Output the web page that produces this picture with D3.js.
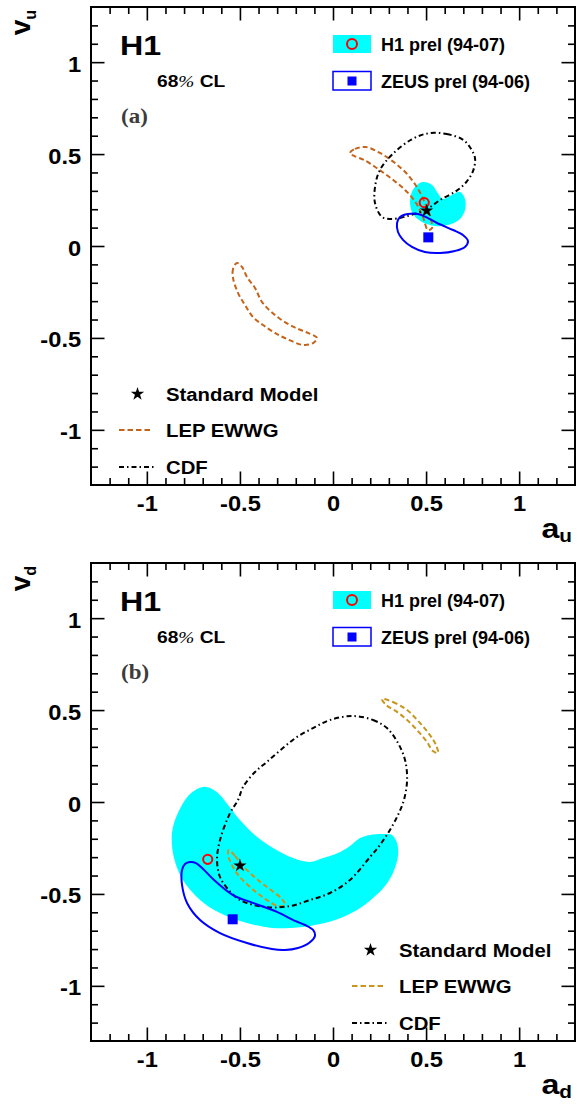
<!DOCTYPE html>
<html>
<head>
<meta charset="utf-8">
<script src="https://cdn.jsdelivr.net/npm/d3@7"></script>
<style>
  body { margin: 0; background: #fff; }
</style>
</head>
<body>
<div id="chart"></div>
<script>
// axis setup
var axisRange = [-1.3, 1.3];
var majorTicks = [-1, -0.5, 0, 0.5, 1];
var tickLabels = ['-1', '-0.5', '0', '0.5', '1'];

// legend labels
var legendTop = ['H1 prel (94-07)', 'ZEUS prel (94-06)'];
var legendBottom = ['Standard Model', 'LEP EWWG', 'CDF'];

// ---- panel (a): up-type quark couplings (a_u, v_u)
var h1RegionU = [[0.483,0.348],[0.532,0.332],[0.559,0.294],[0.591,0.256],[0.639,0.277],[0.682,0.294],
  [0.709,0.256],[0.709,0.196],[0.682,0.147],[0.618,0.114],[0.548,0.109],[0.478,0.131],[0.430,0.174],
  [0.414,0.228],[0.424,0.294],[0.451,0.332]];
var zeusContourU = [[0.360,0.158],[0.403,0.174],[0.457,0.174],[0.510,0.152],[0.559,0.125],[0.645,0.087],
  [0.698,0.060],[0.725,0.027],[0.709,-0.005],[0.655,-0.027],[0.575,-0.038],[0.494,-0.033],[0.424,-0.005],
  [0.376,0.033],[0.349,0.076],[0.344,0.125]];
var lepContourU1 = [[0.091,0.506],[0.118,0.528],[0.177,0.538],[0.252,0.506],[0.333,0.451],[0.403,0.386],
  [0.457,0.310],[0.494,0.234],[0.521,0.163],[0.532,0.098],[0.510,0.087],[0.483,0.158],[0.446,0.234],
  [0.387,0.305],[0.317,0.364],[0.242,0.419],[0.167,0.468],[0.113,0.490]];
var lepContourU2 = [[-0.516,-0.092],[-0.537,-0.125],[-0.537,-0.174],[-0.510,-0.256],[-0.473,-0.321],
  [-0.430,-0.386],[-0.376,-0.430],[-0.312,-0.473],[-0.247,-0.506],[-0.161,-0.538],[-0.107,-0.528],
  [-0.086,-0.500],[-0.134,-0.473],[-0.188,-0.451],[-0.242,-0.424],[-0.312,-0.375],[-0.381,-0.305],
  [-0.419,-0.228],[-0.462,-0.169],[-0.489,-0.114]];
var cdfContourU = [[0.512,0.613],[0.611,0.609],[0.700,0.577],[0.745,0.522],[0.763,0.477],[0.754,0.413],
  [0.718,0.350],[0.665,0.301],[0.575,0.250],[0.503,0.200],[0.430,0.172],[0.369,0.155],[0.306,0.147],
  [0.262,0.159],[0.226,0.232],[0.226,0.323],[0.252,0.413],[0.324,0.504],[0.423,0.580]];
var h1FitU = [0.490, 0.236];
var zeusFitU = [0.512, 0.047];
var standardModelU = [0.503, 0.192];

// ---- panel (b): down-type quark couplings (a_d, v_d)
var h1RegionD = [[-0.698,0.082],[-0.650,0.071],[-0.607,0.038],[-0.564,-0.016],[-0.500,-0.098],
  [-0.414,-0.185],[-0.322,-0.250],[-0.215,-0.305],[-0.124,-0.326],[-0.054,-0.305],[0.027,-0.277],
  [0.091,-0.239],[0.145,-0.196],[0.199,-0.179],[0.269,-0.174],[0.317,-0.179],[0.344,-0.223],
  [0.349,-0.294],[0.322,-0.386],[0.279,-0.457],[0.215,-0.522],[0.129,-0.587],[0.011,-0.642],
  [-0.124,-0.674],[-0.231,-0.685],[-0.322,-0.685],[-0.462,-0.658],[-0.607,-0.604],[-0.714,-0.533],
  [-0.806,-0.424],[-0.854,-0.305],[-0.865,-0.169],[-0.833,-0.060],[-0.768,0.044]];
var zeusContourD = [[-0.768,-0.326],[-0.736,-0.332],[-0.698,-0.364],[-0.639,-0.424],[-0.537,-0.506],
  [-0.430,-0.549],[-0.301,-0.598],[-0.204,-0.647],[-0.150,-0.669],[-0.107,-0.696],[-0.097,-0.729],
  [-0.129,-0.767],[-0.188,-0.794],[-0.258,-0.805],[-0.328,-0.800],[-0.462,-0.767],[-0.607,-0.713],
  [-0.714,-0.642],[-0.784,-0.549],[-0.811,-0.451],[-0.811,-0.370],[-0.795,-0.337]];
var lepContourD1 = [[0.263,0.560],[0.322,0.544],[0.398,0.500],[0.467,0.430],[0.521,0.364],[0.553,0.310],
  [0.564,0.267],[0.537,0.277],[0.505,0.326],[0.451,0.392],[0.398,0.446],[0.344,0.490],[0.285,0.528]];
var lepContourD2 = [[-0.559,-0.261],[-0.526,-0.294],[-0.473,-0.359],[-0.403,-0.424],[-0.333,-0.479],
  [-0.274,-0.528],[-0.258,-0.560],[-0.295,-0.566],[-0.371,-0.522],[-0.446,-0.462],[-0.510,-0.397],
  [-0.548,-0.332],[-0.564,-0.288]];
var cdfContourD = [[0.102,0.468],[0.215,0.446],[0.290,0.402],[0.349,0.321],[0.387,0.228],[0.398,0.120],
  [0.381,0.011],[0.349,-0.071],[0.306,-0.152],[0.252,-0.234],[0.199,-0.299],[0.091,-0.424],
  [-0.016,-0.495],[-0.124,-0.533],[-0.231,-0.566],[-0.365,-0.571],[-0.500,-0.533],[-0.569,-0.468],
  [-0.607,-0.408],[-0.623,-0.315],[-0.607,-0.207],[-0.553,-0.060],[-0.510,0.011],[-0.483,0.082],
  [-0.419,0.163],[-0.355,0.218],[-0.269,0.294],[-0.193,0.354],[-0.107,0.402],[-0.016,0.446]];
var h1FitD = [-0.673, -0.312];
var zeusFitD = [-0.539, -0.638];
var standardModelD = [-0.500, -0.346];

// sizes
var width = 579, height = 1104,
    frame = {left: 91, right: 575, h: 478},
    font = 'Liberation Sans, Arial, Helvetica, sans-serif',
    serif = 'Liberation Serif, Times New Roman, serif';

var svg = d3.select('#chart').append('svg')
  .attr('width', width)
  .attr('height', height);
svg.append('rect').attr('width', width).attr('height', height).attr('fill', '#fff');

var x = d3.scaleLinear().domain(axisRange).range([frame.left, frame.right]);

// text with a little horizontal stretch, like the original
function label(g, px, py, txt, size, o) {
  o = o || {};
  return g.append('text')
    .attr('transform', 'translate(' + px + ',' + py + ') scale(' + (o.sx || 1) + ',1)')
    .attr('font-family', o.family || font)
    .attr('font-weight', 'bold')
    .attr('font-size', size)
    .attr('text-anchor', o.anchor || 'start')
    .attr('fill', o.fill || '#000')
    .text(txt);
}

var drawPanel = function(top, d) {
  var g = svg.append('g');
  var y = d3.scaleLinear().domain(axisRange).range([top + frame.h, top]);
  var line = d3.line().x(function(p){ return x(p[0]); }).y(function(p){ return y(p[1]); })
    .curve(d3.curveCatmullRomClosed.alpha(0.5));

  // H1 region
  g.append('path').attr('d', line(d.h1)).attr('fill', '#00ffff');
  // LEP
  d.lep.forEach(function(c){
    g.append('path').attr('d', line(c)).attr('fill', 'none')
      .attr('stroke', d.lepColor).attr('stroke-width', 2).attr('stroke-dasharray', '5,3');
  });
  // CDF
  g.append('path').attr('d', line(d.cdf)).attr('fill', 'none')
    .attr('stroke', '#000').attr('stroke-width', 2).attr('stroke-dasharray', '5,3,1.5,3');
  // ZEUS
  g.append('path').attr('d', line(d.zeus)).attr('fill', 'none')
    .attr('stroke', '#0000ff').attr('stroke-width', 2);

  // points
  g.append('circle').attr('cx', x(d.h1Fit[0])).attr('cy', y(d.h1Fit[1])).attr('r', 4.6)
    .attr('fill', 'none').attr('stroke', '#ff0000').attr('stroke-width', 2);
  g.append('rect').attr('x', x(d.zeusFit[0]) - 5).attr('y', y(d.zeusFit[1]) - 5)
    .attr('width', 10).attr('height', 10).attr('fill', '#0000ff');
  g.append('path').attr('d', d3.symbol(d3.symbolStar, 55)())
    .attr('transform', 'translate(' + x(d.sm[0]) + ',' + y(d.sm[1]) + ')').attr('fill', '#000');

  // frame
  g.append('rect').attr('x', frame.left).attr('y', top)
    .attr('width', frame.right - frame.left).attr('height', frame.h)
    .attr('fill', 'none').attr('stroke', '#000').attr('stroke-width', 2);

  var minor = d3.range(-12, 13).map(function(i){ return i / 10; })
    .filter(function(v){ return Math.abs(v * 2 - Math.round(v * 2)) > 1e-6; });
  var fmt = function(v){ return tickLabels[majorTicks.indexOf(v)]; };

  var axes = [
    {a: d3.axisBottom(x), t: 'translate(0,' + (top + frame.h) + ')', lab: true},
    {a: d3.axisTop(x), t: 'translate(0,' + top + ')'},
    {a: d3.axisLeft(y), t: 'translate(' + frame.left + ',0)', lab: true},
    {a: d3.axisRight(y), t: 'translate(' + frame.right + ',0)'}
  ];
  axes.forEach(function(ax){
    var gm = g.append('g').attr('transform', ax.t)
      .call(ax.a.tickValues(majorTicks).tickSize(-13.5).tickPadding(ax.a === axes[2].a ? 9 : 11)
        .tickFormat(ax.lab ? fmt : ''));
    gm.select('.domain').remove();
    gm.attr('font-family', font).attr('font-size', 21.5).attr('font-weight', 'bold');
    gm.selectAll('line').attr('stroke-width', 1.6);
    gm.selectAll('text').attr('transform', 'scale(1.1,1)');
    if (ax.a === axes[2].a) gm.selectAll('text').attr('dy', '0.42em');

    var gn = g.append('g').attr('transform', ax.t)
      .call(ax.a.tickValues(minor).tickSize(-7).tickFormat(''));
    gn.select('.domain').remove();
    gn.selectAll('line').attr('stroke-width', 1.6);
  });

  // axis titles
  var xt = label(g, 572, top + 531, d.xName, 28, {anchor: 'end', sx: 1.15});
  xt.append('tspan').attr('font-size', 18).attr('dy', 4).text(d.sub);
  var yt = g.append('text')
    .attr('transform', 'translate(30,' + (top + 3) + ') rotate(-90)')
    .attr('font-family', font).attr('font-weight', 'bold').attr('font-size', 28)
    .attr('text-anchor', 'end').text(d.yName);
  yt.append('tspan').attr('font-size', 16).attr('dy', 6).text(d.sub);

  // header texts
  label(g, 120, top + 48, 'H1', 28, {sx: 1.15});
  var cl = label(g, 157, top + 80, '68', 16, {sx: 1.2});
  cl.append('tspan').attr('font-family', serif).attr('font-weight', 'normal').attr('font-style', 'italic').text('%');
  cl.append('tspan').text(' CL');
  label(g, 121, top + 116, d.tag, 20, {family: serif, sx: 1.15, fill: '#3c3c3c'});

  // top legend
  g.append('rect').attr('x', 333).attr('y', top + 28).attr('width', 38).attr('height', 18).attr('fill', '#00ffff');
  g.append('circle').attr('cx', 352).attr('cy', top + 37).attr('r', 5)
    .attr('fill', 'none').attr('stroke', '#ff0000').attr('stroke-width', 2);
  label(g, 381, top + 44, legendTop[0], 18);
  g.append('rect').attr('x', 333).attr('y', top + 64.5).attr('width', 38).attr('height', 18.5)
    .attr('fill', '#fff').attr('stroke', '#0000ff').attr('stroke-width', 1.5);
  g.append('rect').attr('x', 347.5).attr('y', top + 69.5).attr('width', 9).attr('height', 9).attr('fill', '#0000ff');
  label(g, 381, top + 80.5, legendTop[1], 18);

  // bottom legend
  var lx = d.legX;
  g.append('path').attr('d', d3.symbol(d3.symbolStar, 55)())
    .attr('transform', 'translate(' + (lx + 18.5) + ',' + (top + 387) + ')').attr('fill', '#000');
  label(g, lx + 47, top + 394, legendBottom[0], 19, {sx: 1.07});
  g.append('line').attr('x1', lx).attr('x2', lx + 34).attr('y1', top + 423).attr('y2', top + 423)
    .attr('stroke', d.lepColor).attr('stroke-width', 2).attr('stroke-dasharray', '5.5,3');
  label(g, lx + 47, top + 430, legendBottom[1], 19, {sx: 1.07});
  g.append('line').attr('x1', lx).attr('x2', lx + 37).attr('y1', top + 460).attr('y2', top + 460)
    .attr('stroke', '#000').attr('stroke-width', 2).attr('stroke-dasharray', '5,3,1.5,3');
  label(g, lx + 47, top + 467, legendBottom[2], 19, {sx: 1.07});
};

drawPanel(7, {
  h1: h1RegionU, zeus: zeusContourU, lep: [lepContourU1, lepContourU2], cdf: cdfContourU,
  h1Fit: h1FitU, zeusFit: zeusFitU, sm: standardModelU,
  lepColor: '#c5631a', xName: 'a', yName: 'v', sub: 'u', tag: '(a)', legX: 119
});
drawPanel(563, {
  h1: h1RegionD, zeus: zeusContourD, lep: [lepContourD1, lepContourD2], cdf: cdfContourD,
  h1Fit: h1FitD, zeusFit: zeusFitD, sm: standardModelD,
  lepColor: '#c8961e', xName: 'a', yName: 'v', sub: 'd', tag: '(b)', legX: 352
});
</script>
</body>
</html>
